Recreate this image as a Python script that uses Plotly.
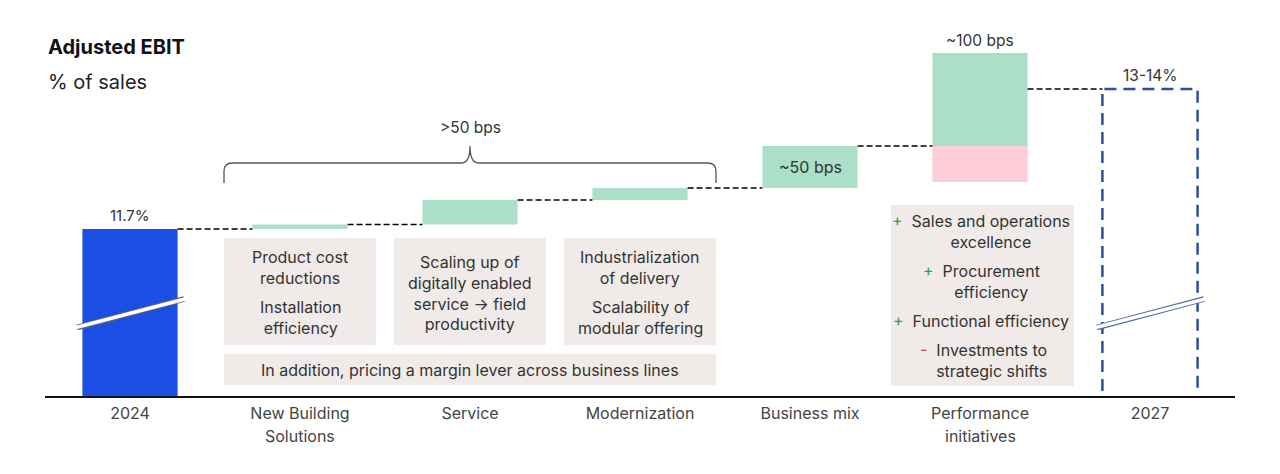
import plotly.graph_objects as go

# ---------------- data ----------------
categories = ["2024", "New Building<br>Solutions", "Service", "Modernization",
              "Business mix", "Performance<br>initiatives", "2027"]
start_value = 11.7          # 2024 adjusted EBIT, % of sales
axis_floor = 10.03          # broken axis floor
driver_deltas = [0.045, 0.245, 0.12, 0.42]   # NBS, Service, Modernization, Business mix
perf_positive = 0.93
perf_negative = -0.36
end_value = 13.1            # 2027 target (13-14%)
value_labels = {"start": "11.7%", "mix": "~50 bps", "perf": "~100 bps", "end": "13-14%", "brace": ">50 bps"}

box_texts = [
    ["Product cost<br>reductions", "Installation<br>efficiency"],
    ["Scaling up of<br>digitally enabled<br>service \u2192 field<br>productivity"],
    ["Industrialization<br>of delivery", "Scalability of<br>modular offering"],
]
pricing_text = "In addition, pricing a margin lever across business lines"
perf_items = [("+", "Sales and operations<br>excellence"), ("+", "Procurement<br>efficiency"),
              ("+", "Functional efficiency"), ("-", "Investments to<br>strategic shifts")]

# ---------------- styles ----------------
BLUE = "#1b4fe4"
MINT = "#abdfc7"
PINK = "#fdcdd9"
BOXC = "#f0ebe8"
DKBLUE = "#2c4f9e"
TXT = "#333333"
FONT = "Inter"
BW = 0.56

# cumulative levels
levels = [start_value]
for d in driver_deltas:
    levels.append(levels[-1] + d)
perf_base = levels[-1]
perf_net = perf_base + perf_positive + perf_negative

fig = go.Figure()
fig.add_trace(go.Bar(x=[0], y=[start_value - axis_floor], base=[axis_floor],
                     marker=dict(color=BLUE, line=dict(width=0)), width=BW, hoverinfo="skip"))
fig.add_trace(go.Bar(x=[1, 2, 3, 4, 5], y=driver_deltas + [perf_positive],
                     base=levels[:4] + [perf_base],
                     marker=dict(color=MINT, line=dict(width=0)), width=BW, hoverinfo="skip"))
fig.add_trace(go.Bar(x=[5], y=[perf_negative], base=[perf_base],
                     marker=dict(color=PINK, line=dict(width=0)), width=BW, hoverinfo="skip"))

H = 396.0  # plot area height in px
def py(px):  # pixel row -> paper y
    return (H - px) / H
def cx(px):  # pixel column -> x axis position
    return (px - 130.0) / 170.0

shapes = []
annotations = []

# connectors
conn_levels = levels + [perf_net]
for i, lv in enumerate(conn_levels):
    shapes.append(dict(type="line", xref="x", yref="y", x0=i + BW / 2, x1=i + 1 - BW / 2,
                       y0=lv, y1=lv, line=dict(color="#000", width=1.4, dash="6px,3px")))

# 2027 dashed box
x0, x1 = 6 - BW / 2, 6 + BW / 2
shapes.append(dict(type="path", xref="x", yref="y",
                   path=f"M {x0},{axis_floor + 0.05} L {x0},{end_value} L {x1},{end_value} L {x1},{axis_floor + 0.05}",
                   line=dict(color=DKBLUE, width=2.5, dash="12px,7px")))

# gray boxes
BH = 0.447
yb_top, yb_bot = py(238), py(345)
for i in range(3):
    shapes.append(dict(type="rect", xref="x", yref="paper", x0=i + 1 - BH, x1=i + 1 + BH,
                       y0=yb_bot, y1=yb_top, fillcolor=BOXC, line=dict(width=0), layer="below"))
shapes.append(dict(type="rect", xref="x", yref="paper", x0=1 - BH, x1=3 + BH,
                   y0=py(385), y1=py(354), fillcolor=BOXC, line=dict(width=0), layer="below"))
shapes.append(dict(type="rect", xref="x", yref="paper", x0=cx(891), x1=cx(1074),
                   y0=py(386), y1=py(205), fillcolor=BOXC, line=dict(width=0), layer="below"))

# brace
xl, xr, xm = 1 - BH, 3 + BH, 2.0
yl, yb, yp = py(163), py(183), py(146)
dx = 0.05
dy = (yl - yb) * 0.4
brace = (f"M {xl},{yb} L {xl},{yl - dy} Q {xl},{yl} {xl + dx},{yl} L {xm - dx},{yl} "
         f"Q {xm},{yl} {xm},{yp} Q {xm},{yl} {xm + dx},{yl} L {xr - dx},{yl} "
         f"Q {xr},{yl} {xr},{yl - dy} L {xr},{yb}")
shapes.append(dict(type="path", xref="x", yref="paper", path=brace,
                   line=dict(color="#555", width=1.3)))

# axis break marks
for c, edge, mid in [(0, "#666", "white"), (6, "#4a67a6", "white")]:
    shapes.append(dict(type="line", xref="x", yref="paper", x0=c - 0.312, x1=c + 0.318,
                       y0=py(327.5), y1=py(299), line=dict(color=edge, width=5.5)))
    shapes.append(dict(type="line", xref="x", yref="paper", x0=c - 0.33, x1=c + 0.335,
                       y0=py(328), y1=py(298.5), line=dict(color=mid, width=3.5)))

# titles
annotations.append(dict(text="<b>Adjusted EBIT</b>", xref="paper", yref="paper", x=(46 - 45) / 1190,
                        y=py(47), xanchor="left", yanchor="middle", showarrow=False,
                        font=dict(size=20, color="#111", family=FONT)))
annotations.append(dict(text="% of sales", xref="paper", yref="paper", x=(46 - 45) / 1190,
                        y=py(82), xanchor="left", yanchor="middle", showarrow=False,
                        font=dict(size=20, color="#222", family=FONT)))

def txt(text, x, y, size=16, color=TXT, yref="paper", yanchor="middle", **kw):
    annotations.append(dict(text=text, x=x, y=y, xref="x", yref=yref, showarrow=False,
                            xanchor="center", yanchor=yanchor,
                            font=dict(size=size, color=color, family=FONT), **kw))

# value labels
txt(value_labels["start"], 0, start_value, size=15, yref="y", yanchor="bottom", yshift=2)
txt(value_labels["mix"], 4, levels[3] + driver_deltas[3] / 2, size=16, yref="y")
txt(value_labels["perf"], 5, perf_base + perf_positive, size=15.5, yref="y", yanchor="bottom", yshift=1)
txt(value_labels["end"], 6, end_value, size=15.5, yref="y", yanchor="bottom", yshift=2)
txt(value_labels["brace"], 2, py(127), size=15.5)

# box texts
txt(box_texts[0][0], 1, py(267.5))
txt(box_texts[0][1], 1, py(317.5))
txt(box_texts[1][0], 2, py(293))
txt(box_texts[2][0], 3, py(267.5))
txt(box_texts[2][1], 3, py(317.5))
txt(pricing_text, 2, py(370))

sign_col = {"+": "#2e9e5e", "-": "#d23a3a"}
perf_y = [231.5, 281.5, 321, 360]
NB = "\u00a0"
for (s, t), yy in zip(perf_items, perf_y):
    lines = t.split("<br>")
    first = (f"<span style='color:{sign_col[s]}'>{s}</span>{NB * 2}{lines[0]}"
             f"{NB * 2}<span style='color:rgba(255,255,255,0)'>{s}</span>")
    full = "<br>".join([first] + lines[1:])
    txt(full, cx(991), py(yy))

# second lines of category labels
for i, c in enumerate(categories):
    parts = c.split("<br>")
    if len(parts) > 1:
        annotations.append(dict(text=parts[1], x=i, xref="x", yref="paper", y=py(436),
                                xanchor="center", yanchor="middle",
                                showarrow=False, font=dict(size=16, color="#444", family=FONT)))

fig.update_layout(
    width=1280, height=474,
    margin=dict(l=45, r=45, t=0, b=78),
    plot_bgcolor="white", paper_bgcolor="white",
    showlegend=False, barmode="overlay",
    shapes=shapes, annotations=annotations,
    font=dict(family=FONT, color=TXT),
    xaxis=dict(range=[-0.5, 6.5], tickvals=list(range(len(categories))),
               ticktext=[c.split("<br>")[0] for c in categories],
               showgrid=False, zeroline=False, showline=True, linecolor="#111", linewidth=1.5,
               ticks="", ticklabelstandoff=2,
               tickfont=dict(size=16, color="#444", family=FONT), fixedrange=True),
    yaxis=dict(range=[axis_floor, axis_floor + 3.96], visible=False, fixedrange=True),
)

fig.write_html("out.html", post_script="document.body.style.margin='0';",
               config={"displayModeBar": False})
